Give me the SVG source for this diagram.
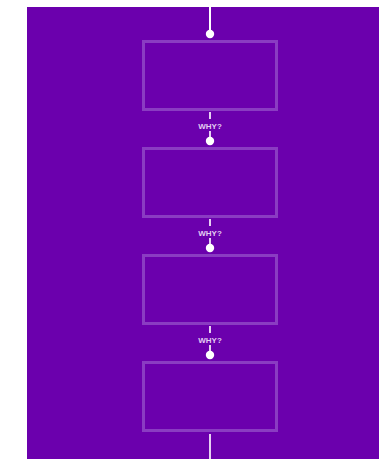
<svg xmlns="http://www.w3.org/2000/svg" width="379" height="459" viewBox="0 0 379 459">
<style>
.bg{fill:#6b00ad}
.box{fill:none;stroke:#8a3cc2;stroke-width:3}
.ln{stroke:#ffffff;stroke-width:2;fill:none}
.ln2{stroke:#e6d0f2;stroke-width:2;fill:none}
.dot{fill:#ffffff}
.lbl{font-family:"Liberation Sans",Arial,sans-serif;font-size:8px;font-weight:bold;fill:#e3cdf3;text-anchor:middle}
</style>
<rect x="0" y="0" width="379" height="459" fill="#ffffff"/>
<rect class="bg" x="27" y="7" width="352" height="452"/>
<g id="connectors">
<line class="ln" x1="210" y1="7" x2="210" y2="34"/>
<circle class="dot" cx="210" cy="34" r="4.2"/>
<line class="ln2" x1="210" y1="112" x2="210" y2="119"/>
<text class="lbl" x="210" y="129">WHY?</text>
<line class="ln2" x1="210" y1="131" x2="210" y2="141"/>
<circle class="dot" cx="210" cy="141" r="4.2"/>
<line class="ln2" x1="210" y1="219" x2="210" y2="226"/>
<text class="lbl" x="210" y="236">WHY?</text>
<line class="ln2" x1="210" y1="238" x2="210" y2="248"/>
<circle class="dot" cx="210" cy="248" r="4.2"/>
<line class="ln2" x1="210" y1="326" x2="210" y2="333"/>
<text class="lbl" x="210" y="343">WHY?</text>
<line class="ln2" x1="210" y1="345" x2="210" y2="355"/>
<circle class="dot" cx="210" cy="355" r="4.2"/>
<line class="ln2" x1="210" y1="434" x2="210" y2="459"/>
</g>
<g id="node1"><rect class="box" x="143.5" y="41.5" width="133" height="68"/></g>
<g id="node2"><rect class="box" x="143.5" y="148.5" width="133" height="68"/></g>
<g id="node3"><rect class="box" x="143.5" y="255.5" width="133" height="68"/></g>
<g id="node4"><rect class="box" x="143.5" y="362.5" width="133" height="68"/></g>
</svg>
